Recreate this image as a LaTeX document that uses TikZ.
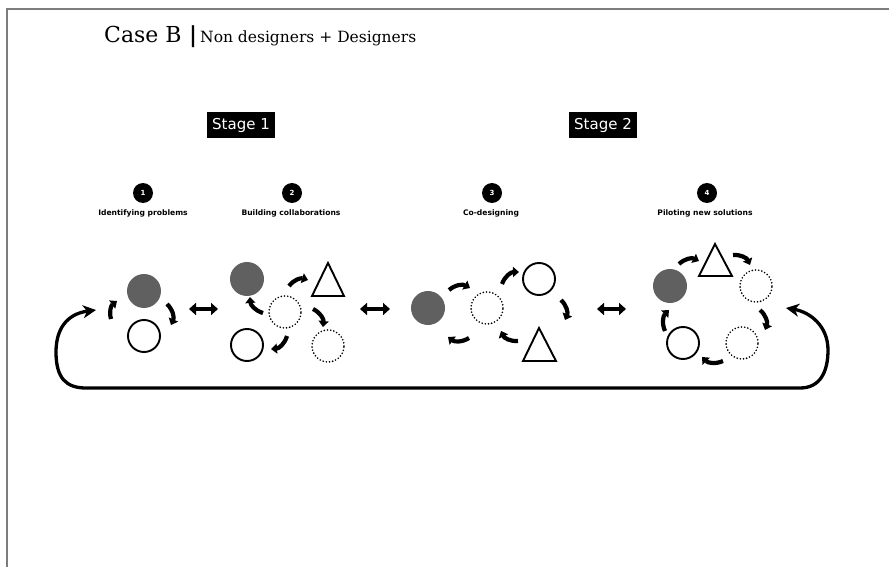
\documentclass[tikz,border=0pt]{standalone}
\usepackage{fontspec}
\setmainfont{DejaVu Serif}
\newfontfamily\vsans{DejaVu Sans}
\usetikzlibrary{arrows.meta}
\definecolor{fillg}{RGB}{96,96,96}
\definecolor{frameg}{RGB}{125,125,125}
\begin{document}
\begin{tikzpicture}[x=1pt,y=-1pt,
  gdisk/.style={circle,fill=fillg,draw=none,minimum size=34pt,inner sep=0pt},
  wdisk/.style={circle,draw=black,line width=1.9pt,fill=white,minimum size=32pt,inner sep=0pt},
  ddisk/.style={circle,draw=black,line width=1.8pt,dash pattern=on 0pt off 3.2pt,line cap=round,minimum size=32pt,inner sep=0pt},
  tri/.style={draw=black,line width=1.9pt,line join=miter,fill=white},
  carrow/.style={line width=4.2pt,-{Triangle[length=6pt,width=10pt]}},
  darrow/.style={line width=4.2pt,{Triangle[length=7pt,width=12pt]}-{Triangle[length=7pt,width=12pt]}},
  bigloop/.style={line width=3.3pt,{Stealth[length=13pt,width=13pt,inset=4pt]}-{Stealth[length=13pt,width=13pt,inset=4pt]}},
  stagebox/.style={fill=black,text=white,minimum width=68pt,minimum height=26pt,inner sep=0pt,font=\vsans\fontsize{15}{18}\selectfont},
  numdot/.style={circle,fill=black,text=white,minimum size=20pt,inner sep=0pt,font=\vsans\bfseries\fontsize{7}{8}\selectfont},
  steplabel/.style={inner sep=0pt,font=\vsans\bfseries\fontsize{7.6}{9}\selectfont}
]
\useasboundingbox (0,0) rectangle (889,567);
% frame
\draw[frameg,line width=2pt] (7,567) -- (7,9.5) -- (889,9.5);
% title
\node[anchor=base west,inner sep=0pt,font=\fontsize{22}{26}\selectfont] (title) at (104,43) {Case B};
\node[anchor=base west,inner sep=0pt,font=\bfseries\fontsize{22}{26}\selectfont] (bar) at (189,43) {|};
\node[anchor=base west,inner sep=0pt,font=\fontsize{15.5}{19}\selectfont] (sub) at (200,43) {Non designers + Designers};
% stages
\node[stagebox] (s1) at (241,125) {Stage 1};
\node[stagebox] (s2) at (603,125) {Stage 2};
% step numbers and labels
\node[numdot] (n1) at (143,193) {1};
\node[numdot] (n2) at (292,193) {2};
\node[numdot] (n3) at (492,193) {3};
\node[numdot] (n4) at (707,193) {4};
\node[steplabel] (l1) at (143,213) {Identifying problems};
\node[steplabel] (l2) at (291,213) {Building collaborations};
\node[steplabel] (l3) at (491,213) {Co-designing};
\node[steplabel] (l4) at (705,213) {Piloting new solutions};
% group 1
\node[gdisk] (g1a) at (144,291) {};
\node[wdisk] (g1b) at (144,336) {};
\draw[carrow] (111,319) to[bend left=35] (117,301);
\draw[carrow] (167,304) to[bend left=35] (171,325);
% group 2
\node[gdisk] (g2a) at (247,279) {};
\node[ddisk] (g2c) at (285,312) {};
\node[wdisk] (g2d) at (247,345) {};
\node[ddisk] (g2e) at (328,346) {};
\draw[tri] (312,296) -- (328,263) -- (344,296) -- cycle;
\draw[carrow] (289,286) to[bend left=35] (308,280);
\draw[carrow] (263,313) to[bend left=35] (250,297);
\draw[carrow] (313,309) to[bend left=35] (323,327);
\draw[carrow] (287,336) to[bend left=35] (271,349);
% group 3
\node[gdisk] (g3a) at (428,308) {};
\node[ddisk] (g3b) at (487,308) {};
\node[wdisk] (g3c) at (539,279) {};
\draw[tri] (523,361) -- (539,328) -- (556,361) -- cycle;
\draw[carrow] (449,290) to[bend left=35] (470,288);
\draw[carrow] (502,284) to[bend left=35] (519,272);
\draw[carrow] (561,300) to[bend left=35] (565,320);
\draw[carrow] (518,341) to[bend left=35] (501,331);
\draw[carrow] (469,338) to[bend left=35] (448,337);
% group 4
\node[gdisk] (g4a) at (670,286) {};
\node[ddisk] (g4c) at (756,286) {};
\node[ddisk] (g4d) at (742,343) {};
\node[wdisk] (g4e) at (683,343) {};
\draw[tri] (699,276) -- (715,244) -- (732,276) -- cycle;
\draw[carrow] (679,264) to[bend left=35] (699,261);
\draw[carrow] (733,255) to[bend left=35] (750,265);
\draw[carrow] (760,310) to[bend left=35] (765,330);
\draw[carrow] (723,361) to[bend left=35] (702,357);
\draw[carrow] (665,331) to[bend left=35] (669,310);
% double arrows between steps
\coordinate (d1a) at (189,309); \coordinate (d1b) at (218,309);
\coordinate (d2a) at (360,309); \coordinate (d2b) at (390,309);
\coordinate (d3a) at (597,309); \coordinate (d3b) at (626,309);
\draw[darrow] (d1a) -- (d1b);
\draw[darrow] (d2a) -- (d2b);
\draw[darrow] (d3a) -- (d3b);
% big feedback loop
\coordinate (Lt) at (96,310);
\coordinate (Rt) at (786,308);
\draw[bigloop] (Lt) .. controls (66,314) and (56,330) .. (56,352)
  .. controls (56,378) and (66,388) .. (86,388) -- (800,388)
  .. controls (820,388) and (828,372) .. (828,350)
  .. controls (828,326) and (810,312) .. (Rt);
\end{tikzpicture}
\end{document}
